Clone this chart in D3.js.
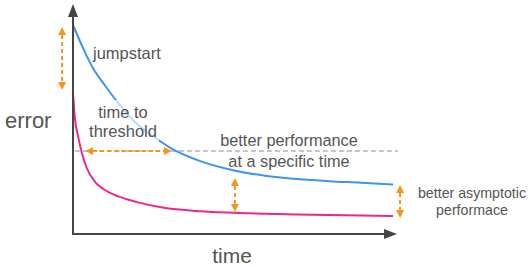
<!DOCTYPE html>
<html>
<head>
<meta charset="utf-8">
<script src="https://cdn.jsdelivr.net/npm/d3@7"></script>
<style>
  body { margin: 0; background: #fff; }
  svg { display: block; font-family: "Liberation Sans", Arial, Helvetica, sans-serif; }
  .label { fill: #555; }
</style>
</head>
<body>
<div id="chart"></div>
<script>
'use strict';

// curve readings (time, error)
var baselineTime = [0, 3, 6, 10, 15, 20, 25, 30, 40, 50, 60, 70, 80, 90, 100];
var baselineError = [95, 85, 76, 67.5, 58, 50, 44.5, 39.5, 33, 29, 26.5, 25, 24, 23.3, 22.5];

var transferTime = [0, 0.6, 1.7, 2.7, 4.3, 7, 10, 14, 20, 28, 40, 55, 70, 85, 100];
var transferError = [64, 52.7, 43.6, 37.3, 30, 23.5, 20, 17.2, 14.5, 12, 10.3, 9.4, 8.9, 8.5, 8.2];

var threshold = 37.7;

// annotation arrows: [t, e] at each end
var arrowNames = ['jumpstart', 'timeToThreshold', 'specificTime', 'asymptotic'];
var arrowFrom = [[-3.4, 94.1], [3.8, 37.7], [50.6, 25.5], [102.2, 22.3]];
var arrowTo = [[-3.4, 65.5], [30.9, 37.7], [50.6, 10], [102.2, 7.3]];

var width = 529, height = 267;

var svg = d3.select('#chart').append('svg')
  .attr('width', width)
  .attr('height', height);

var x = d3.scaleLinear().domain([0, 100]).range([73, 393]);
var y = d3.scaleLinear().domain([0, 100]).range([234, 14]);

var line = d3.line()
  .x(function(d) { return x(d[0]) })
  .y(function(d) { return y(d[1]) })
  .curve(d3.curveMonotoneX);

var baseline = d3.zip(baselineTime, baselineError);
var transfer = d3.zip(transferTime, transferError);

// threshold dashed line
svg.append('line')
  .attr('x1', x(0.6)).attr('x2', x(101.5))
  .attr('y1', y(threshold)).attr('y2', y(threshold))
  .attr('stroke', '#b3b3b3')
  .attr('stroke-width', 1.5)
  .attr('stroke-dasharray', '5,3');

svg.append('path')
  .datum(baseline)
  .attr('d', line)
  .attr('fill', 'none')
  .attr('stroke', '#3b94f6')
  .attr('stroke-width', 2);

svg.append('path')
  .datum(transfer)
  .attr('d', line)
  .attr('fill', 'none')
  .attr('stroke', '#f2248b')
  .attr('stroke-width', 2);

// white veil behind "time to threshold"
svg.append('rect')
  .attr('x', 88).attr('y', 100)
  .attr('width', 71).attr('height', 41)
  .attr('fill', '#fff')
  .attr('fill-opacity', 0.65);

// axes
var axisColor = '#444';
svg.append('line')
  .attr('x1', x(0)).attr('x2', x(0))
  .attr('y1', y(0) + 1).attr('y2', 16)
  .attr('stroke', axisColor).attr('stroke-width', 2);
svg.append('path')
  .attr('d', 'M' + x(0) + ',4L' + (x(0) - 5) + ',17L' + (x(0) + 5) + ',17Z')
  .attr('fill', axisColor);

svg.append('line')
  .attr('x1', x(0) - 1).attr('x2', 385)
  .attr('y1', y(0)).attr('y2', y(0))
  .attr('stroke', axisColor).attr('stroke-width', 2);
svg.append('path')
  .attr('d', 'M397,' + y(0) + 'L384,' + (y(0) - 5) + 'L384,' + (y(0) + 5) + 'Z')
  .attr('fill', axisColor);

// orange double arrows
var orange = '#f7941d';
arrowNames.forEach(function(name, i) {
  var x1 = x(arrowFrom[i][0]), y1 = y(arrowFrom[i][1]);
  var x2 = x(arrowTo[i][0]), y2 = y(arrowTo[i][1]);
  var dx = x2 - x1, dy = y2 - y1;
  var len = Math.sqrt(dx * dx + dy * dy);
  var ux = dx / len, uy = dy / len;
  var head = 8, half = 4;
  var g = svg.append('g').attr('class', 'arrow-' + name);

  g.append('line')
    .attr('x1', x1 + ux * head).attr('y1', y1 + uy * head)
    .attr('x2', x2 - ux * head).attr('y2', y2 - uy * head)
    .attr('stroke', orange)
    .attr('stroke-width', 2)
    .attr('stroke-dasharray', '4,3');

  [[x1, y1, 1], [x2, y2, -1]].forEach(function(p) {
    var bx = p[0] + ux * head * p[2], by = p[1] + uy * head * p[2];
    g.append('path')
      .attr('d', 'M' + p[0] + ',' + p[1] +
        'L' + (bx - uy * half) + ',' + (by + ux * half) +
        'L' + (bx + uy * half) + ',' + (by - ux * half) + 'Z')
      .attr('fill', orange);
  });
});

// labels
function label(txt, px, py, size, anchor) {
  svg.append('text')
    .attr('class', 'label')
    .attr('x', px).attr('y', py)
    .attr('text-anchor', anchor || 'start')
    .style('font-size', size + 'px')
    .text(txt);
}

label('jumpstart', 93, 59, 16.5);
label('time to', 123, 118, 16.5, 'middle');
label('threshold', 123, 137, 16.5, 'middle');
label('error', 5, 128, 22);
label('time', 232, 263, 21, 'middle');
label('better performance', 289, 146, 16.3, 'middle');
label('at a specific time', 289, 167, 16.3, 'middle');
label('better asymptotic', 472, 198, 14.2, 'middle');
label('performace', 472, 215, 14.2, 'middle');
</script>
</body>
</html>
